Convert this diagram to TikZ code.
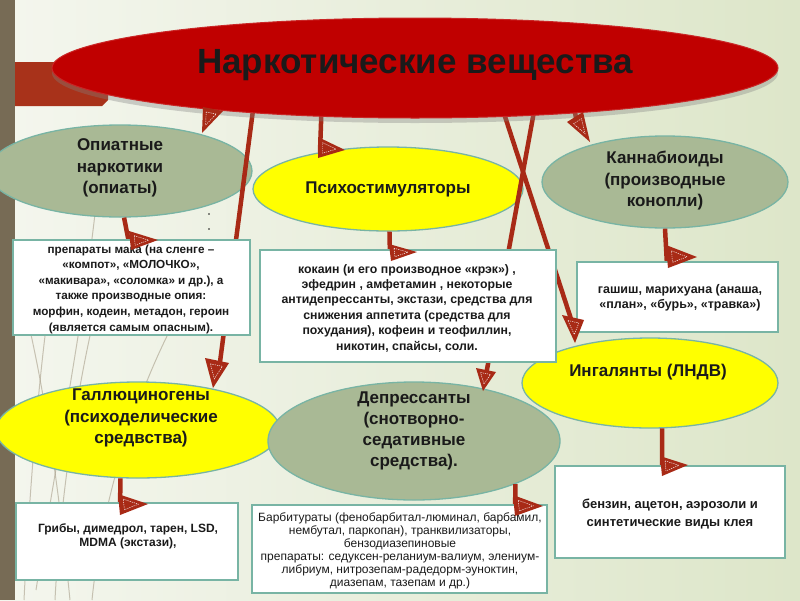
\documentclass[tikz,border=0pt]{standalone}
\usepackage{fontspec}
\setmainfont{Liberation Sans}
\usetikzlibrary{shapes.geometric,calc,shadows}
\pgfdeclarelayer{bg}
\pgfdeclarelayer{lines}
\pgfdeclarelayer{top}
\pgfdeclarelayer{front}
\pgfsetlayers{bg,main,lines,top,front}
\definecolor{bgL}{HTML}{F4F6EE}
\definecolor{bgR}{HTML}{DDE6C9}
\definecolor{stripc}{HTML}{776B55}
\definecolor{rrect}{HTML}{A8321A}
\definecolor{titler}{HTML}{C00000}
\definecolor{sage}{HTML}{A9B995}
\definecolor{tealc}{HTML}{78B4A4}
\definecolor{yel}{HTML}{FFFF00}
\definecolor{arrc}{HTML}{A82A16}
\definecolor{stemc}{HTML}{9A8E78}
\definecolor{txt}{HTML}{1A1A1A}
\tikzset{
  ovalg/.style={ellipse, fill=sage, draw=tealc, line width=1.3pt, inner sep=0pt},
  ovaly/.style={ellipse, fill=yel, draw=tealc, line width=1.3pt, inner sep=0pt},
  lbl/.style={align=center, text=txt, font=\bfseries\fontsize{17}{21.5}\selectfont},
  infobox/.style={draw=tealc, fill=white, line width=1.3pt, inner sep=0pt},
  boxtxt/.style={align=center, text=txt, font=\bfseries\fontsize{11.7}{15.6}\selectfont},
  conn/.style={draw=arrc, line width=4.5pt},
  stem/.style={draw=stemc, line width=1pt, opacity=0.5},
}
\newcommand\arrhead[3]{%
  \fill[arrc] #1 -- #2 -- #3 -- cycle;
  \coordinate (hg) at ($0.3333*#1+0.3333*#2+0.3334*#3$);
  \draw[white, line width=0.45pt, dash pattern=on 1.2pt off 1pt]
    ($(hg)!0.5!#1$) -- ($(hg)!0.5!#2$) -- ($(hg)!0.5!#3$) -- cycle;}
\begin{document}
\begin{tikzpicture}[x=1pt,y=-1pt]
\useasboundingbox (0,0) rectangle (800,600);
% background
\begin{pgfonlayer}{bg}
  \shade[left color=bgL, right color=bgR] (0,0) rectangle (800,600);
  \fill[stripc] (0,0) rectangle (15,600);
  \fill[rrect] (15,62) -- (110,62) -- (108,100) -- (102,106) -- (15,106) -- cycle;
  \draw[stem] (24,600) .. controls (30,480) and (42,330) .. (58,250);
  \draw[stem] (55,600) .. controls (60,500) and (80,350) .. (115,240);
  \draw[stem] (92,600) .. controls (100,520) and (125,420) .. (170,330);
  \draw[stem] (36,590) .. controls (58,450) and (82,330) .. (96,205);
  \draw[stem] (70,600) .. controls (62,520) and (50,420) .. (30,330);
\end{pgfonlayer}
% ellipses
\node[ovalg, minimum width=264, minimum height=92] (opi) at (120,171) {};
\node[ovaly, minimum width=270, minimum height=84] (psy) at (388,189) {};
\node[ovalg, minimum width=246, minimum height=92] (can) at (665,182) {};
\node[ovaly, minimum width=284, minimum height=96] (hal) at (138,430) {};
\node[ovalg, minimum width=292, minimum height=118] (dep) at (414,441) {};
\node[ovaly, minimum width=256, minimum height=90] (ing) at (650,383) {};
\fill[txt] (209,214) circle (0.8) (209,229) circle (0.8);
\begin{pgfonlayer}{top}
  \node[ellipse, fill=titler, draw=titler!85!white, line width=1pt,
        minimum width=726, minimum height=100,
        drop shadow={shadow xshift=0pt, shadow yshift=-5pt, opacity=0.35}] (title) at (415,68) {};
  \node[font=\bfseries\fontsize{35}{40}\selectfont, text=txt] (titlet) at (415,65) {Наркотические вещества};
  % boxes
  \node[infobox, minimum width=237, minimum height=95] (opibox) at (131.5,287.5) {};
  \node[infobox, minimum width=296, minimum height=112] (psybox) at (408,306) {};
  \node[infobox, minimum width=201, minimum height=70] (canbox) at (677.5,297) {};
  \node[infobox, minimum width=222, minimum height=77] (halbox) at (127,541.5) {};
  \node[infobox, minimum width=295, minimum height=88] (depbox) at (399.5,549) {};
  \node[infobox, minimum width=230, minimum height=92] (ingbox) at (670,512) {};
  % ellipse labels
  \node[lbl] (opit) at (120,168) {Опиатные\\наркотики\\(опиаты)};
  \node[lbl] (psyt) at (388,189) {Психостимуляторы};
  \node[lbl] (cant) at (665,181) {Каннабиоиды\\(производные\\конопли)};
  \node[lbl] (halt) at (141,418) {Галлюциногены\\(психоделические\\средвства)};
  \node[lbl, font=\bfseries\fontsize{17}{21}\selectfont] (dept) at (414,431) {Депрессанты\\(снотворно-\\седативные\\ средства).};
  \node[lbl] (ingt) at (648,372) {Ингалянты (ЛНДВ)};
  % box texts
  \node[boxtxt] (opibt) at (131,289) {препараты  мака (на  сленге –\\«компот», «МОЛОЧКО»,\\«макивара», «соломка» и др.), а\\также  производные  опия:\\морфин, кодеин, метадон, героин\\(является  самым  опасным).};
  \node[boxtxt, font=\bfseries\fontsize{12.3}{15.4}\selectfont] (psybt) at (407,308) {кокаин (и его производное «крэк») ,\\эфедрин , амфетамин ,   некоторые\\антидепрессанты, экстази, средства  для\\снижения  аппетита (средства  для\\похудания), кофеин  и  теофиллин,\\никотин, спайсы, соли.};
  \node[boxtxt, font=\bfseries\fontsize{12.5}{15}\selectfont] (canbt) at (680,297.5) {гашиш, марихуана (анаша,\\«план», «бурь», «травка»)};
  \node[boxtxt, font=\bfseries\fontsize{12}{13.5}\selectfont] (halbt) at (128,536.5) {Грибы, димедрол, тарен, LSD,\\MDMA (экстази),};
  \node[boxtxt, font=\fontsize{12}{13}\selectfont] (depbt) at (400,550.5) {Барбитураты (фенобарбитал-люминал, барбамил,\\нембутал, паркопан), транквилизаторы,\\бензодиазепиновые\\препараты:  седуксен-реланиум-валиум, элениум-\\либриум, нитрозепам-радедорм-эуноктин,\\диазепам, тазепам  и  др.)};
  \node[boxtxt, font=\bfseries\fontsize{13}{18}\selectfont] (ingbt) at (670,514) {бензин, ацетон, аэрозоли  и\\синтетические виды  клея};
\end{pgfonlayer}
% connectors
\coordinate (s1) at (216,95);  \coordinate (e1) at (212,114);
\coordinate (s2) at (255,95);  \coordinate (e2) at (220,362);
\coordinate (s3) at (322,95);  \coordinate (e3) at (320,152);
\coordinate (s4) at (498,95);  \coordinate (e4) at (572,322);
\coordinate (s5) at (537,95);  \coordinate (e5) at (486,375);
\coordinate (s6) at (572,95);  \coordinate (e6) at (576,118);
\coordinate (e7) at (130,248);
\coordinate (e8) at (390,258);
\coordinate (e9) at (667,265);
\coordinate (e10) at (120,512);
\coordinate (e11) at (515,512);
\coordinate (e12) at (662,474);
\begin{pgfonlayer}{lines}
  \draw[conn] (s1) -- (e1);
  \draw[conn] (s2) -- (e2);
  \draw[conn] (s3) -- (e3);
  \draw[conn] (s4) -- (e4);
  \draw[conn] (s5) -- (e5);
  \draw[conn] (s6) -- (e6);
  \draw[conn] (opi.-85) -- (e7);
  \draw[conn] (psy.-88) -- (e8);
  \draw[conn] (can.south) -- (e9);
  \draw[conn] (hal.-110) -- (e10);
  \draw[conn] (dep.-23) -- (e11);
  \draw[conn] (ing.-75) -- (e12);
\end{pgfonlayer}
\begin{pgfonlayer}{front}
  \arrhead{(203,107)}{(223,111)}{(202,133)}
  \arrhead{(205,358)}{(229,363)}{(213,388)}
  \arrhead{(318,137)}{(345,150)}{(318,158)}
  \arrhead{(562,315)}{(584,320)}{(575,343)}
  \arrhead{(476,368)}{(496,372)}{(483,391)}
  \arrhead{(567,122)}{(583,112)}{(590,142)}
  \arrhead{(129,231)}{(158,240)}{(131,250)}
  \arrhead{(389,244)}{(417,252)}{(391,261)}
  \arrhead{(666,245)}{(697,257)}{(668,268)}
  \arrhead{(118,494)}{(148,504)}{(120,515)}
  \arrhead{(513,495)}{(543,506)}{(515,516)}
  \arrhead{(660,456)}{(688,465)}{(662,476)}
\end{pgfonlayer}
\end{tikzpicture}
\end{document}
